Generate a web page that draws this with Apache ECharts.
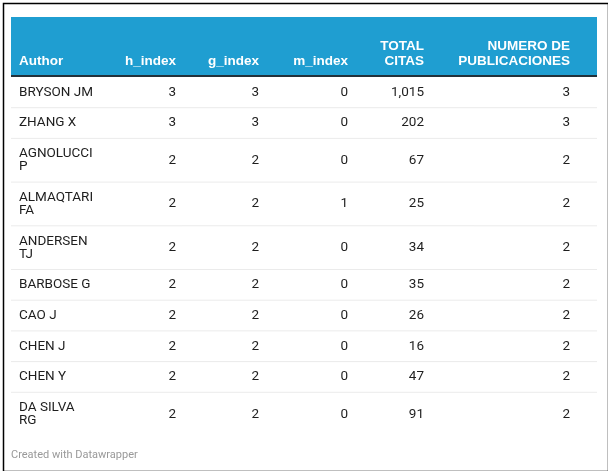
<!DOCTYPE html>
<html>
<head>
<meta charset="utf-8">
<script src="https://cdn.jsdelivr.net/npm/echarts@6/dist/echarts.min.js"></script>
<style>
html,body{margin:0;padding:0;background:#fff;}
#c{width:608px;height:471px;}
</style>
</head>
<body>
<div id="c"></div>
<script>
// ---- data ----
const headers = ['Author', 'h_index', 'g_index', 'm_index', 'TOTAL\nCITAS', 'NUMERO DE\nPUBLICACIONES'];
const authors = ['BRYSON JM', 'ZHANG X', 'AGNOLUCCI P', 'ALMAQTARI FA', 'ANDERSEN TJ', 'BARBOSE G', 'CAO J', 'CHEN J', 'CHEN Y', 'DA SILVA RG'];
const hIndex = [3, 3, 2, 2, 2, 2, 2, 2, 2, 2];
const gIndex = [3, 3, 2, 2, 2, 2, 2, 2, 2, 2];
const mIndex = [0, 0, 0, 1, 0, 0, 0, 0, 0, 0];
const totalCitas = [1015, 202, 67, 25, 34, 35, 26, 16, 47, 91];
const numPublicaciones = [3, 3, 2, 2, 2, 2, 2, 2, 2, 2];
const footer = 'Created with Datawrapper';

// ---- layout ----
const W = 608, H = 471;
const tableLeft = 11, tableRight = 597;
const headerTop = 17, headerBottom = 75, headerRule = 2;
const headerLastLineY = 61, headerLineH = 15;
const rowPad = 17.7, lineH = 13;
const authorWrapWidth = 76;
const colX = [19, 176, 259, 348, 424, 570];
const colAlign = ['left', 'right', 'right', 'right', 'right', 'right'];
const bodyFont = '13.5px Roboto';
const headFont = 'bold 13.5px "Liberation Sans"';

const fmt = v => String(v).replace(/\B(?=(\d{3})+(?!\d))/g, ',');

// wrap author names to the column width
const mctx = document.createElement('canvas').getContext('2d');
mctx.font = bodyFont;
function wrap(s) {
  const words = s.split(' ');
  const lines = [];
  let cur = '';
  words.forEach(w => {
    const t = cur ? cur + ' ' + w : w;
    if (cur && mctx.measureText(t).width > authorWrapWidth) { lines.push(cur); cur = w; }
    else cur = t;
  });
  lines.push(cur);
  return lines;
}

const rows = authors.map((a, i) => ({
  cells: [wrap(a), [fmt(hIndex[i])], [fmt(gIndex[i])], [fmt(mIndex[i])], [fmt(totalCitas[i])], [fmt(numPublicaciones[i])]]
}));
let yAcc = headerBottom + headerRule;
rows.forEach(r => {
  const n = Math.max(...r.cells.map(c => c.length));
  r.top = yAcc;
  r.h = rowPad + lineH * n;
  yAcc += r.h;
});

const chart = echarts.init(document.getElementById('c'), null, {renderer: 'canvas'});

function headerItem(params, api) {
  const p0 = api.coord([tableLeft, headerTop]);
  const p1 = api.coord([tableRight, headerBottom]);
  const children = [
    {type: 'rect', shape: {x: p0[0], y: p0[1], width: p1[0] - p0[0], height: p1[1] - p0[1]}, style: {fill: '#1f9ed1'}},
    {type: 'rect', shape: {x: p0[0], y: p1[1], width: p1[0] - p0[0], height: headerRule}, style: {fill: '#22313a'}}
  ];
  headers.forEach((h, c) => {
    const lines = h.split('\n');
    lines.forEach((ln, k) => {
      const y = headerLastLineY - headerLineH * (lines.length - 1 - k);
      const p = api.coord([colX[c], y]);
      children.push({type: 'text', style: {text: ln, x: p[0], y: p[1], fill: '#ffffff', font: headFont, textAlign: colAlign[c], textVerticalAlign: 'middle'}});
    });
  });
  return {type: 'group', children};
}

function rowItem(params, api) {
  const i = api.value(0);
  const r = rows[i];
  const children = [];
  const cy = r.top + r.h / 2;
  r.cells.forEach((lines, c) => {
    lines.forEach((ln, k) => {
      const y = cy + (k - (lines.length - 1) / 2) * lineH;
      const p = api.coord([colX[c], y]);
      children.push({type: 'text', style: {text: ln, x: p[0], y: p[1], fill: '#1e1e1e', font: bodyFont, textAlign: colAlign[c], textVerticalAlign: 'middle'}});
    });
  });
  if (i < rows.length - 1) {
    const a = api.coord([tableLeft, r.top + r.h]);
    const b = api.coord([tableRight, r.top + r.h]);
    children.push({type: 'line', shape: {x1: a[0], y1: a[1], x2: b[0], y2: b[1]}, style: {stroke: '#ebebeb', lineWidth: 1}});
  }
  return {type: 'group', children};
}

chart.setOption({
  animation: false,
  grid: {left: 0, right: 0, top: 0, bottom: 0},
  xAxis: {type: 'value', min: 0, max: W, show: false},
  yAxis: {type: 'value', min: 0, max: H, inverse: true, show: false},
  graphic: [
    {type: 'rect', left: 1, top: 1, shape: {width: 605, height: 468}, style: {fill: 'none', stroke: '#000', lineWidth: 1.5}, z: 100},
    {type: 'text', left: 11, top: 450, style: {text: footer, fill: '#999999', font: '11px Roboto'}}
  ],
  series: [
    {type: 'custom', clip: false, data: [[0]], renderItem: headerItem, silent: true},
    {type: 'custom', clip: false, data: rows.map((r, i) => [i]), renderItem: rowItem, silent: true}
  ]
});
</script>
</body>
</html>
